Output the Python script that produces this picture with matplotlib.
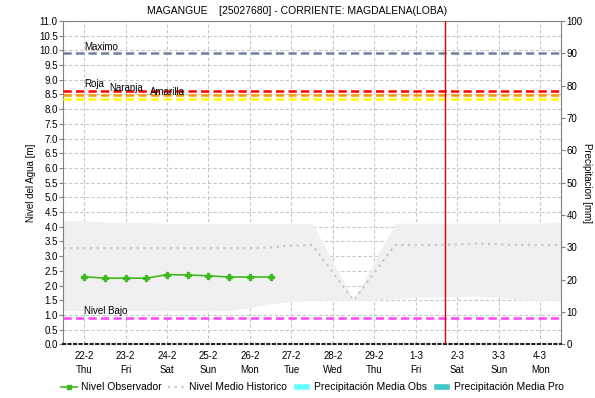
import matplotlib
matplotlib.use("Agg")
import matplotlib.pyplot as plt
from matplotlib.lines import Line2D
from matplotlib.patches import Patch

plt.rcParams["font.family"] = ["Liberation Sans", "DejaVu Sans"]

TITLE = "MAGANGUE    [25027680] - CORRIENTE: MAGDALENA(LOBA)"

# one tick per day, day 0 = 22-2
day_labels = ["22-2", "23-2", "24-2", "25-2", "26-2", "27-2",
              "28-2", "29-2", "1-3", "2-3", "3-3", "4-3"]
weekdays = ["Thu", "Fri", "Sat", "Sun", "Mon", "Tue",
            "Wed", "Thu", "Fri", "Sat", "Sun", "Mon"]

# observed level, every 12 h
obs_day = [0.0, 0.5, 1.0, 1.5, 2.0, 2.5, 3.0, 3.5, 4.0, 4.5]
obs_level = [2.30, 2.25, 2.25, 2.25, 2.37, 2.36, 2.33, 2.29, 2.29, 2.29]

# historic mean with its min/max envelope, every 12 h
hist_day = [-0.5, 0.0, 0.5, 1.0, 1.5, 2.0, 2.5, 3.0, 3.5, 4.0, 4.5, 5.0, 5.5,
            6.0, 6.5, 7.0, 7.5, 8.0, 8.5, 9.0, 9.5, 10.0, 10.5, 11.0, 11.5]
hist_mean = [3.27, 3.27, 3.27, 3.27, 3.27, 3.27, 3.27, 3.27, 3.27, 3.27, 3.30,
             3.36, 3.38, 2.44, 1.50, 2.44, 3.38, 3.38, 3.38, 3.40, 3.43, 3.40,
             3.38, 3.38, 3.38]
hist_upper = [4.21, 4.21, 4.15, 4.15, 4.15, 4.10, 4.10, 4.10, 4.10, 4.10, 4.10,
              4.11, 4.12, 2.81, 1.50, 2.81, 4.12, 4.12, 4.12, 4.12, 4.12, 4.12,
              4.12, 4.12, 4.17]
hist_lower = [1.14, 1.14, 1.14, 1.14, 1.14, 1.14, 1.14, 1.14, 1.14, 1.25, 1.38,
              1.45, 1.50, 1.50, 1.50, 1.50, 1.55, 1.60, 1.60, 1.64, 1.64, 1.60,
              1.50, 1.50, 1.50]

# alert thresholds [m]
thresholds = [
    ("Maximo", 9.90, "#7080a0"),
    ("Roja", 8.63, "#ff0000"),
    ("Naranja", 8.49, "#ff9900"),
    ("Amarilla", 8.35, "#ffff00"),
    ("Nivel Bajo", 0.90, "#ff44ff"),
]
now_day = 8.71

fig = plt.figure(figsize=(5.95, 3.98), dpi=100)
ax = fig.add_axes([0.1064, 0.1349, 0.8365, 0.8123])

ax.fill_between(hist_day, hist_lower, hist_upper, color="#f0f0f0",
                linewidth=0, zorder=1)
ax.plot(hist_day, hist_mean, color="#c8c8c8", linestyle=(0, (1, 2)),
        linewidth=1.6, zorder=2)

label_x = {"Maximo": 0.0, "Roja": 0.0, "Naranja": 0.6, "Amarilla": 1.6,
           "Nivel Bajo": 0.0}
for name, level, color in thresholds:
    ax.axhline(level, color=color, linestyle=(0, (3.3, 1.7)), linewidth=1.8,
               zorder=3)
    ax.text(label_x[name], level + 0.05, name, fontsize=7, va="bottom",
            ha="left", zorder=5)

ax.plot(obs_day, obs_level, color="#40b820", linewidth=1.2, marker="P",
        markersize=4, zorder=4)
ax.axvline(now_day, color="#e00000", linewidth=1, zorder=4)

ax.set_xlim(-0.5, 11.5)
ax.set_ylim(0, 11)
ax.set_xticks(range(len(day_labels)))
ax.set_xticklabels([f"{d}\n{w}" for d, w in zip(day_labels, weekdays)],
                   fontsize=7, linespacing=1.5)
ax.set_yticks([i * 0.5 for i in range(23)])
ax.set_yticklabels([f"{i * 0.5:.1f}" for i in range(23)], fontsize=7)
ax.tick_params(axis="x", length=0, pad=5)
ax.tick_params(axis="y", length=3, width=0.8, color="#808080", pad=1)
ax.grid(True, color="#c8c8c8", linestyle=(0, (3, 2)), linewidth=0.8)
ax.set_axisbelow(True)
for side in ["left", "top", "right"]:
    ax.spines[side].set_color("#808080")
ax.spines["bottom"].set_linestyle(":")
ax.spines["bottom"].set_color("#202020")
ax.spines["bottom"].set_linewidth(1.5)
ax.set_ylabel("Nivel del Agua [m]", fontsize=7, labelpad=2)

ax2 = ax.twinx()
ax2.set_ylim(0, 100)
ax2.set_yticks(range(0, 101, 10))
ax2.set_yticklabels([str(v) for v in range(0, 101, 10)], fontsize=7)
ax2.tick_params(axis="y", length=3, width=0.8, color="#808080", pad=1)
for side in ["left", "top", "right", "bottom"]:
    ax2.spines[side].set_visible(False)
ax2.set_ylabel("Precipitacion [mm]", fontsize=7, rotation=-90, labelpad=3,
               va="center")

fig.suptitle(TITLE, fontsize=7.5, y=0.985)

handles = [
    Line2D([], [], color="#40b820", linewidth=1.2, marker="s", markersize=3),
    Line2D([], [], color="#c8c8c8", linestyle=(0, (1, 2)), linewidth=1.6),
    Patch(facecolor="#66ffff", edgecolor="white"),
    Patch(facecolor="#40c8c8", edgecolor="white"),
]
labels = ["Nivel Observador", "Nivel Medio Historico",
          "Precipitación Media Obs", "Precipitación Media Pro"]
fig.legend(handles, labels, loc="center", bbox_to_anchor=(0.525, 0.027),
           ncol=4, frameon=False, fontsize=7.5, handlelength=1.6,
           handletextpad=0.4, columnspacing=0.6)

fig.savefig("out.png", dpi=100)
